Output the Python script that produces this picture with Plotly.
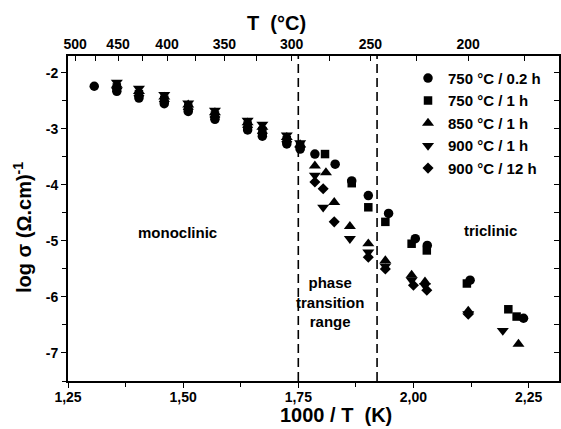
import plotly.graph_objects as go

# log conductivity vs reciprocal temperature for five annealing conditions
series_names = ["750 °C / 0.2 h", "750 °C / 1 h", "850 °C / 1 h", "900 °C / 1 h", "900 °C / 12 h"]

x_750_02 = [1.307, 1.356, 1.404, 1.459, 1.511, 1.569, 1.640, 1.672, 1.725, 1.754,
            1.786, 1.830, 1.866, 1.902, 1.946, 2.004, 2.030, 2.123, 2.239]
y_750_02 = [-2.24, -2.33, -2.45, -2.55, -2.69, -2.83, -3.02, -3.13, -3.27, -3.36,
            -3.45, -3.63, -3.93, -4.19, -4.51, -4.96, -5.08, -5.70, -6.38]

x_750_1 = [1.356, 1.404, 1.459, 1.511, 1.569, 1.640, 1.672, 1.725, 1.754,
           1.808, 1.866, 1.902, 1.939, 1.996, 2.029, 2.116, 2.206, 2.224]
y_750_1 = [-2.26, -2.38, -2.48, -2.62, -2.76, -2.94, -3.04, -3.20, -3.31,
           -3.45, -3.97, -4.40, -4.66, -5.05, -5.17, -5.76, -6.22, -6.35]

x_850_1 = [1.356, 1.404, 1.459, 1.511, 1.569, 1.640, 1.672, 1.725, 1.754,
           1.786, 1.810, 1.828, 1.862, 1.902, 1.939, 1.996, 2.025, 2.119, 2.228]
y_850_1 = [-2.22, -2.33, -2.43, -2.57, -2.71, -2.89, -2.97, -3.15, -3.28,
           -3.66, -3.78, -4.31, -4.74, -5.05, -5.35, -5.61, -5.73, -6.25, -6.84]

x_900_1 = [1.356, 1.404, 1.459, 1.511, 1.569, 1.640, 1.672, 1.725, 1.754,
           1.786, 1.804, 1.862, 1.902, 1.939, 1.996, 2.025, 2.119, 2.194]
y_900_1 = [-2.17, -2.28, -2.39, -2.54, -2.67, -2.85, -2.92, -3.11, -3.25,
           -3.83, -4.40, -4.96, -5.20, -5.45, -5.70, -5.80, -6.30, -6.60]

x_900_12 = [1.356, 1.404, 1.459, 1.511, 1.569, 1.640, 1.672, 1.725, 1.754,
            1.786, 1.804, 1.828, 1.902, 1.939, 2.000, 2.029, 2.119]
y_900_12 = [-2.28, -2.41, -2.51, -2.65, -2.79, -2.97, -3.08, -3.23, -3.33,
            -3.95, -4.07, -4.66, -5.29, -5.50, -5.79, -5.88, -6.31]

# bottom axis (1000/T) and left axis (log sigma) ticks
x_ticks = [1.25, 1.50, 1.75, 2.00, 2.25]
x_tick_text = ["1,25", "1,50", "1,75", "2,00", "2,25"]
y_ticks = [-2, -3, -4, -5, -6, -7]
y_tick_text = ["-2", "-3", "-4", "-5", "-6", "-7"]

# top temperature scale (°C) and where its ticks fall on the 1000/T axis
top_labels = ["500", "450", "400", "350", "300", "250", "200"]
top_label_pos = [1.2654, 1.3586, 1.4650, 1.5895, 1.7357, 1.9066, 2.1188]
top_minor_pos = [1.3106, 1.4116, 1.5258, 1.6603, 1.8173, 2.0076, 2.2409]

# boundaries of the phase transition range
transition_bounds = [1.75, 1.921]

X_RANGE = [1.25, 2.316]
Y_RANGE = [-7.5, -1.7]
FONT = "Liberation Sans, Arial, sans-serif"


def bold(labels):
    return ["<b>%s</b>" % s if s else "" for s in labels]


fig = go.Figure()

series = [
    (x_750_02, y_750_02, "circle", 9.5),
    (x_750_1, y_750_1, "square", 8.5),
    (x_850_1, y_850_1, "triangle-up", 10.5),
    (x_900_1, y_900_1, "triangle-down", 10.5),
    (x_900_12, y_900_12, "diamond", 8.5),
]
for name, (xs, ys, sym, sz) in zip(series_names, series):
    fig.add_trace(go.Scatter(
        x=xs, y=ys, mode="markers", name=name,
        marker=dict(symbol=sym, size=sz, color="black", line=dict(width=0)),
    ))

# empty traces so the top (°C) and right frame axes get drawn
fig.add_trace(go.Scatter(x=[], y=[], xaxis="x2", yaxis="y", showlegend=False,
                         hoverinfo="skip"))
fig.add_trace(go.Scatter(x=[], y=[], xaxis="x", yaxis="y2", showlegend=False,
                         hoverinfo="skip"))

for xb in transition_bounds:
    fig.add_shape(type="line", xref="x", yref="paper", x0=xb, x1=xb, y0=0, y1=1,
                  line=dict(color="black", width=1.6, dash="9px,5px"))

tick_font = dict(family=FONT, size=14, color="black")

fig.update_layout(
    width=561, height=429,
    margin=dict(l=68, r=2, t=56, b=48),
    paper_bgcolor="white", plot_bgcolor="white",
    font=dict(family=FONT, color="black"),
    showlegend=True,
    legend=dict(x=0.6925, y=0.982, xanchor="left", yanchor="top",
                bgcolor="rgba(0,0,0,0)", borderwidth=0,
                font=dict(family=FONT, size=15, color="black", weight="bold")),
    xaxis=dict(range=X_RANGE, showgrid=False, zeroline=False,
               showline=True, linecolor="black", linewidth=1.8,
               tickmode="array", tickvals=x_ticks, ticktext=bold(x_tick_text),
               ticks="outside", ticklen=5, tickwidth=1.4, tickcolor="black",
               ticklabelstandoff=-3,
               minor=dict(tick0=1.25, dtick=0.125, ticks="outside", ticklen=4,
                          tickwidth=1.2, tickcolor="black", showgrid=False),
               tickfont=tick_font),
    xaxis2=dict(range=X_RANGE, overlaying="x", side="top", anchor="y",
                showgrid=False, zeroline=False,
                showline=True, linecolor="black", linewidth=1.8,
                tickmode="array", tickvals=top_label_pos + top_minor_pos,
                ticktext=bold(top_labels + [""] * len(top_minor_pos)),
                ticks="inside", ticklen=5, tickwidth=1.2, tickcolor="black",
                tickfont=tick_font),
    yaxis=dict(range=Y_RANGE, showgrid=False, zeroline=False,
               showline=True, linecolor="black", linewidth=1.8,
               tickmode="array", tickvals=y_ticks, ticktext=bold(y_tick_text),
               ticks="outside", ticklen=5, tickwidth=1.4, tickcolor="black",
               minor=dict(tick0=-2, dtick=0.5, ticks="outside", ticklen=4,
                          tickwidth=1.2, tickcolor="black", showgrid=False),
               tickfont=tick_font),
    yaxis2=dict(range=Y_RANGE, overlaying="y", side="right", anchor="x",
                showgrid=False, zeroline=False,
                showline=True, linecolor="black", linewidth=1.8,
                tickmode="linear", tick0=-2, dtick=0.5,
                ticks="inside", ticklen=5, tickwidth=1.2, tickcolor="black",
                showticklabels=False),
)

title_font = dict(family=FONT, size=20, color="black", weight="bold")
label_font = dict(family=FONT, size=15, color="black", weight="bold")

fig.add_annotation(text="T  (°C)", xref="paper", yref="paper", x=0.4246, y=1.1015,
                   xanchor="center", yanchor="middle", showarrow=False, font=title_font)
fig.add_annotation(text="1000 / T  (K)", xref="paper", yref="paper", x=0.5458, y=-0.105,
                   xanchor="center", yanchor="middle", showarrow=False, font=title_font)
fig.add_annotation(text="log σ (Ω.cm)<sup>-1</sup>", xref="paper", yref="paper",
                   x=-0.0916, y=0.4708, xanchor="center", yanchor="middle",
                   textangle=-90, showarrow=False, font=title_font)

fig.add_annotation(text="monoclinic", x=1.488, y=-4.846, showarrow=False, font=label_font)
fig.add_annotation(text="triclinic", x=2.168, y=-4.81, showarrow=False, font=label_font)
fig.add_annotation(text="phase<br>transition<br>range", x=1.819, y=-6.09,
                   showarrow=False, font=label_font, align="center")

fig.write_html("out.html")
